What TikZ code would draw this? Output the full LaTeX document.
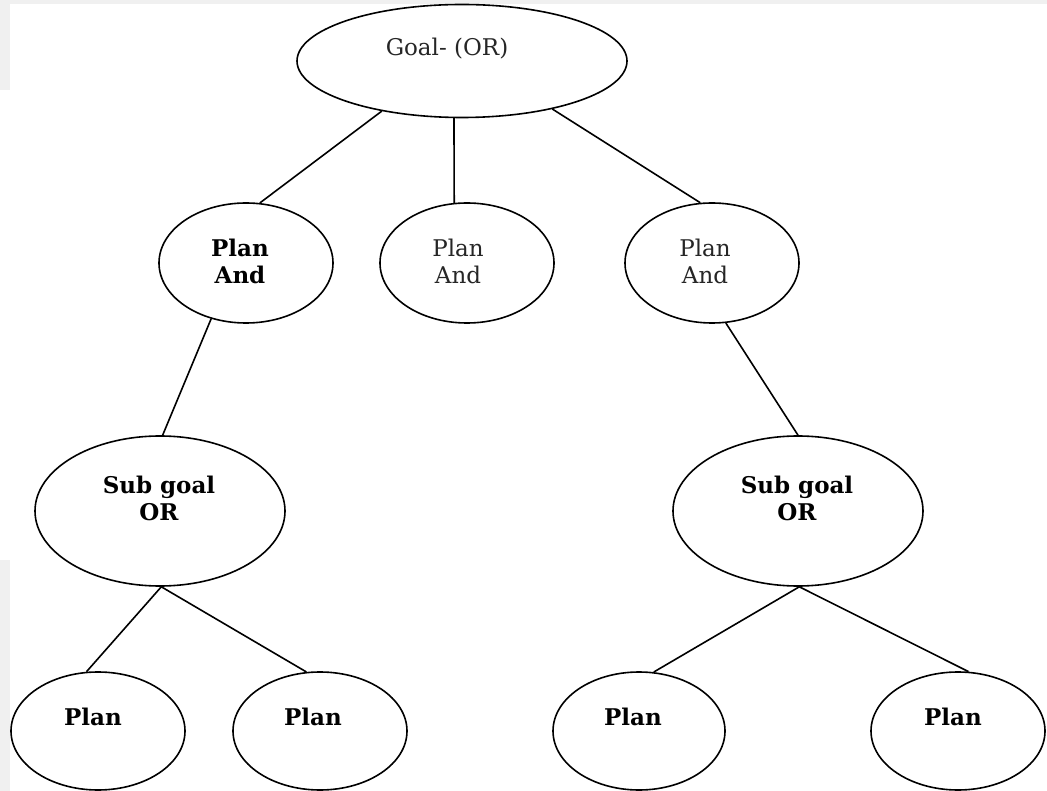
\documentclass[tikz,border=0pt]{standalone}
\usepackage{fontspec}
\setmainfont{DejaVu Serif}
\usetikzlibrary{shapes.geometric}
\tikzset{
  oval/.style={draw=black, line width=1.6pt, ellipse, inner sep=0pt},
  lbl/.style={align=center, inner sep=0pt, text=black!85, font=\fontsize{23}{27}\selectfont},
  lblb/.style={align=center, inner sep=0pt, text=black, font=\fontsize{23}{27}\selectfont\bfseries},
  link/.style={draw=black, line width=1.6pt}
}
\begin{document}
\begin{tikzpicture}[x=1pt,y=-1pt]
\useasboundingbox (0,0) rectangle (1047,791);
\fill[white] (0,0) rectangle (1047,791);
\fill[black!6] (0,0) rectangle (1047,4);
\fill[black!6] (0,0) rectangle (10,90);
\fill[black!6] (0,560) rectangle (10,791);
% ellipses
\node[oval, minimum width=330pt, minimum height=113pt] (g)  at (462,61)  {};
\node[oval, minimum width=174pt, minimum height=120pt] (p1) at (246,263) {};
\node[oval, minimum width=174pt, minimum height=120pt] (p2) at (467,263) {};
\node[oval, minimum width=174pt, minimum height=120pt] (p3) at (712,263) {};
\node[oval, minimum width=250pt, minimum height=150pt] (s1) at (160,511) {};
\node[oval, minimum width=250pt, minimum height=150pt] (s2) at (798,511) {};
\node[oval, minimum width=174pt, minimum height=118pt] (q1) at (98,731)  {};
\node[oval, minimum width=174pt, minimum height=118pt] (q2) at (320,731) {};
\node[oval, minimum width=172pt, minimum height=118pt] (q3) at (639,731) {};
\node[oval, minimum width=174pt, minimum height=118pt] (q4) at (958,731) {};
% texts
\node[lbl]  (tg)  at (447,49)  {Goal- (OR)};
\node[lblb] (tp1) at (240,261) {Plan\\And};
\node[lbl]  (tp2) at (458,261) {Plan\\And};
\node[lbl]  (tp3) at (705,261) {Plan\\And};
\node[lblb] (ts1) at (159,498) {Sub goal\\OR};
\node[lblb] (ts2) at (797,498) {Sub goal\\OR};
\node[lblb] (tq1) at (93,717)  {Plan};
\node[lblb] (tq2) at (313,717) {Plan};
\node[lblb] (tq3) at (633,717) {Plan};
\node[lblb] (tq4) at (953,717) {Plan};
% connectors
\path[link] (g.-148)  -- (p1.77.8);
\path[link] (g.-98)   -- (p2.102.2);
\path[link] (g.-28.1) -- (p3.101.3);
\path[link] (p1.-122.1) -- (s1.88.5);
\path[link] (p3.-77.6)  -- (s2.90);
\path[link] (s1.-89) -- (q1.101.7);
\path[link] (s1.-89) -- (q2.103.6);
\path[link] (s2.-89) -- (q3.76.4);
\path[link] (s2.-89) -- (q4.80.2);
\end{tikzpicture}
\end{document}
